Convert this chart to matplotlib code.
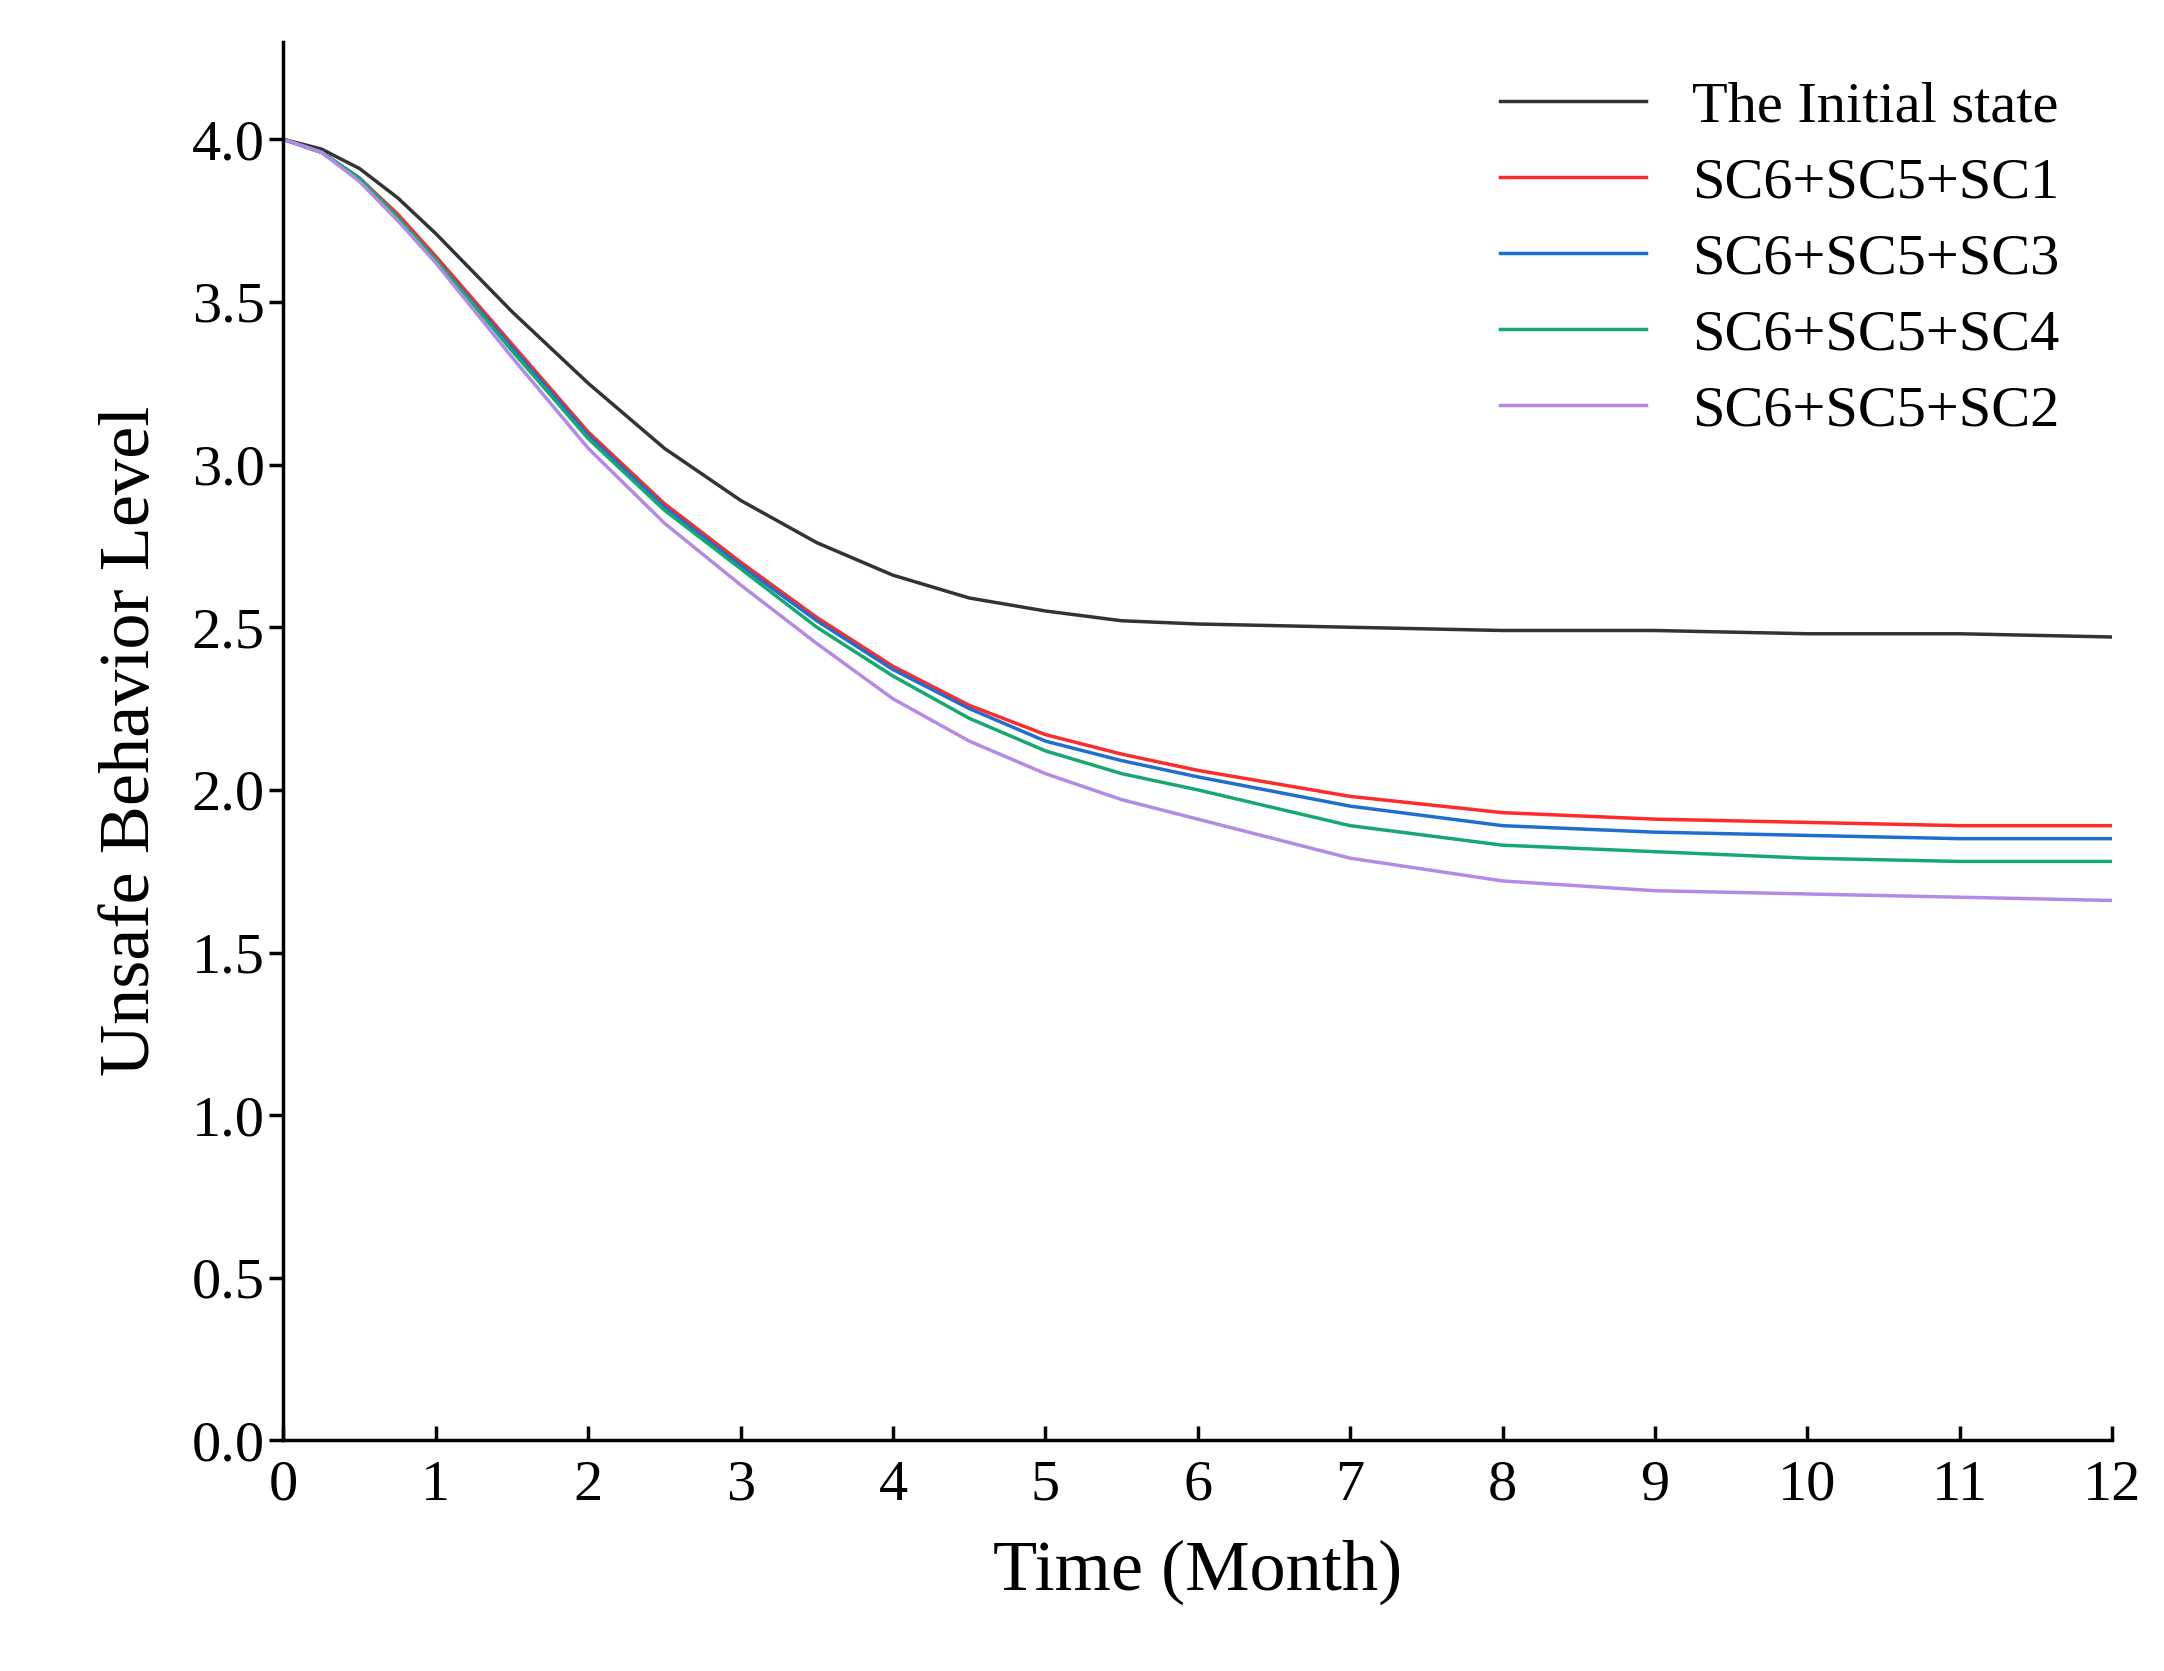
import numpy as np
import matplotlib.pyplot as plt

t = [0, 0.25, 0.5, 0.75, 1, 1.5, 2, 2.5, 3, 3.5, 4, 4.5, 5, 5.5, 6, 7, 8, 9, 10, 11, 12]
initial = [4.0, 3.97, 3.91, 3.82, 3.71, 3.47, 3.25, 3.05, 2.89, 2.76, 2.66, 2.59, 2.55, 2.52, 2.51, 2.50, 2.49, 2.49, 2.48, 2.48, 2.47]
sc1 = [4.0, 3.96, 3.88, 3.77, 3.64, 3.37, 3.1, 2.88, 2.7, 2.53, 2.38, 2.26, 2.17, 2.11, 2.06, 1.98, 1.93, 1.91, 1.90, 1.89, 1.89]
sc3 = [4.0, 3.96, 3.88, 3.76, 3.63, 3.36, 3.09, 2.87, 2.69, 2.52, 2.37, 2.25, 2.15, 2.09, 2.04, 1.95, 1.89, 1.87, 1.86, 1.85, 1.85]
sc4 = [4.0, 3.96, 3.88, 3.76, 3.63, 3.35, 3.08, 2.86, 2.68, 2.50, 2.35, 2.22, 2.12, 2.05, 2.00, 1.89, 1.83, 1.81, 1.79, 1.78, 1.78]
sc2 = [4.0, 3.96, 3.87, 3.75, 3.62, 3.33, 3.05, 2.82, 2.63, 2.45, 2.28, 2.15, 2.05, 1.97, 1.91, 1.79, 1.72, 1.69, 1.68, 1.67, 1.66]

series = [
    ("The Initial state", initial, "#333333"),
    ("SC6+SC5+SC1", sc1, "#ff2a2a"),
    ("SC6+SC5+SC3", sc3, "#1f6fd0"),
    ("SC6+SC5+SC4", sc4, "#17a870"),
    ("SC6+SC5+SC2", sc2, "#b58ae6"),
]

plt.rcParams["font.family"] = "Liberation Serif"
fig = plt.figure(figsize=(21.64, 16.71), dpi=100)
ax = fig.add_axes([0.131, 0.138, 0.845, 0.837])
for name, vals, col in series:
    ax.plot(t, vals, color=col, lw=2.5, label=name)

ax.set_xlim(0, 12)
ax.set_ylim(0, 4.3)
ax.set_xticks(range(13))
ax.set_yticks(np.arange(0, 4.01, 0.5))
ax.set_yticklabels([f"{v:.1f}" for v in np.arange(0, 4.01, 0.5)])
ax.tick_params(labelsize=42, width=2.5, length=10)
ax.tick_params(axis="x", direction="in", pad=14)
ax.spines["top"].set_visible(False)
ax.spines["right"].set_visible(False)
ax.spines["left"].set_linewidth(2.5)
ax.spines["bottom"].set_linewidth(2.5)
ax.set_xlabel("Time (Month)", fontsize=52, labelpad=20)
ax.set_ylabel("Unsafe Behavior Level", fontsize=52, labelpad=20)
ax.legend(loc="upper right", fontsize=42, frameon=False, handlelength=2.5,
          bbox_to_anchor=(1.0, 1.01), labelspacing=0.4)

fig.savefig("out.png")
